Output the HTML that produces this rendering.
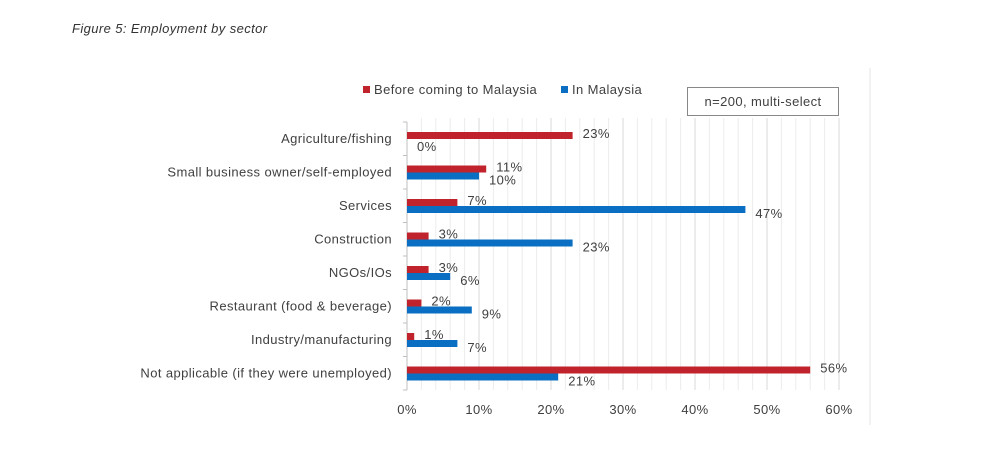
<!DOCTYPE html>
<html><head><meta charset="utf-8"><style>
body{margin:0;background:#fff;}
svg text{font-family:"Liberation Sans",sans-serif;letter-spacing:0.4px;}
</style></head><body>
<svg width="1000" height="450">
<text x="72" y="33" font-size="13" font-style="italic" fill="#333">Figure 5: Employment by sector</text>
<line x1="870" y1="68" x2="870" y2="425" stroke="#e4e4e4"/>
<g id="grid"></g>
<g id="bars"></g>
<g id="labels"></g>
<g>
<rect x="363" y="86" width="7" height="7" fill="#c0232c"/>
<text x="374" y="94" font-size="13" fill="#404040">Before coming to Malaysia</text>
<rect x="561" y="86" width="7" height="7" fill="#0a6fc2"/>
<text x="572" y="94" font-size="13" fill="#404040">In Malaysia</text>
</g>
<rect x="687.5" y="87.5" width="151" height="28" fill="#fff" stroke="#888"/>
<text x="763" y="106" font-size="13" fill="#404040" text-anchor="middle">n=200, multi-select</text>
</svg>
<script>
const categories=["Agriculture/fishing","Small business owner/self-employed","Services","Construction","NGOs/IOs","Restaurant (food & beverage)","Industry/manufacturing","Not applicable (if they were unemployed)"];
const beforeVals=[23,11,7,3,3,2,1,56];
const inVals=[0,10,47,23,6,9,7,21];
const ticks=[0,10,20,30,40,50,60];
const NS="http://www.w3.org/2000/svg";
const x=v=>407+v*7.2;
const yc=i=>139+i*33.5;
function mk(t,a,p){const e=document.createElementNS(NS,t);for(const k in a)e.setAttribute(k,a[k]);p.appendChild(e);return e;}
const g=document.getElementById('grid'),b=document.getElementById('bars'),l=document.getElementById('labels');
for(let v=2;v<=60;v+=2){const ln=mk('line',{x1:x(v),x2:x(v),y1:118,y2:390,stroke:v%10===0?'#d9d9d9':'#ececec'},g);

}
const ax=mk('line',{x1:407,x2:407,y1:122,y2:390,stroke:'#bfbfbf'},g);


for(let i=0;i<=categories.length;i++){const t=mk('line',{x1:403,x2:407,y1:122+i*33.5,y2:122+i*33.5,stroke:'#bfbfbf'},g);

}
ticks.forEach(v=>{const t=mk('text',{x:x(v),y:414,'font-size':13,fill:'#404040','text-anchor':'middle'},l);t.textContent=v+'%';

});
categories.forEach((c,i)=>{const y=yc(i);
const t=mk('text',{x:392,y:y+4,'font-size':13,fill:'#404040','text-anchor':'end'},l);t.textContent=c;


const r1=mk('rect',{x:407,y:y-7,width:x(beforeVals[i])-407,height:7,fill:'#c0232c'},b);


const r2=mk('rect',{x:407,y:y,width:x(inVals[i])-407,height:7,fill:'#0a6fc2'},b);


const t1=mk('text',{x:x(beforeVals[i])+10,y:y-1,'font-size':13,fill:'#404040'},l);t1.textContent=beforeVals[i]+'%';


const t2=mk('text',{x:x(inVals[i])+10,y:y+12,'font-size':13,fill:'#404040'},l);t2.textContent=inVals[i]+'%';

});
</script>
</body></html>
